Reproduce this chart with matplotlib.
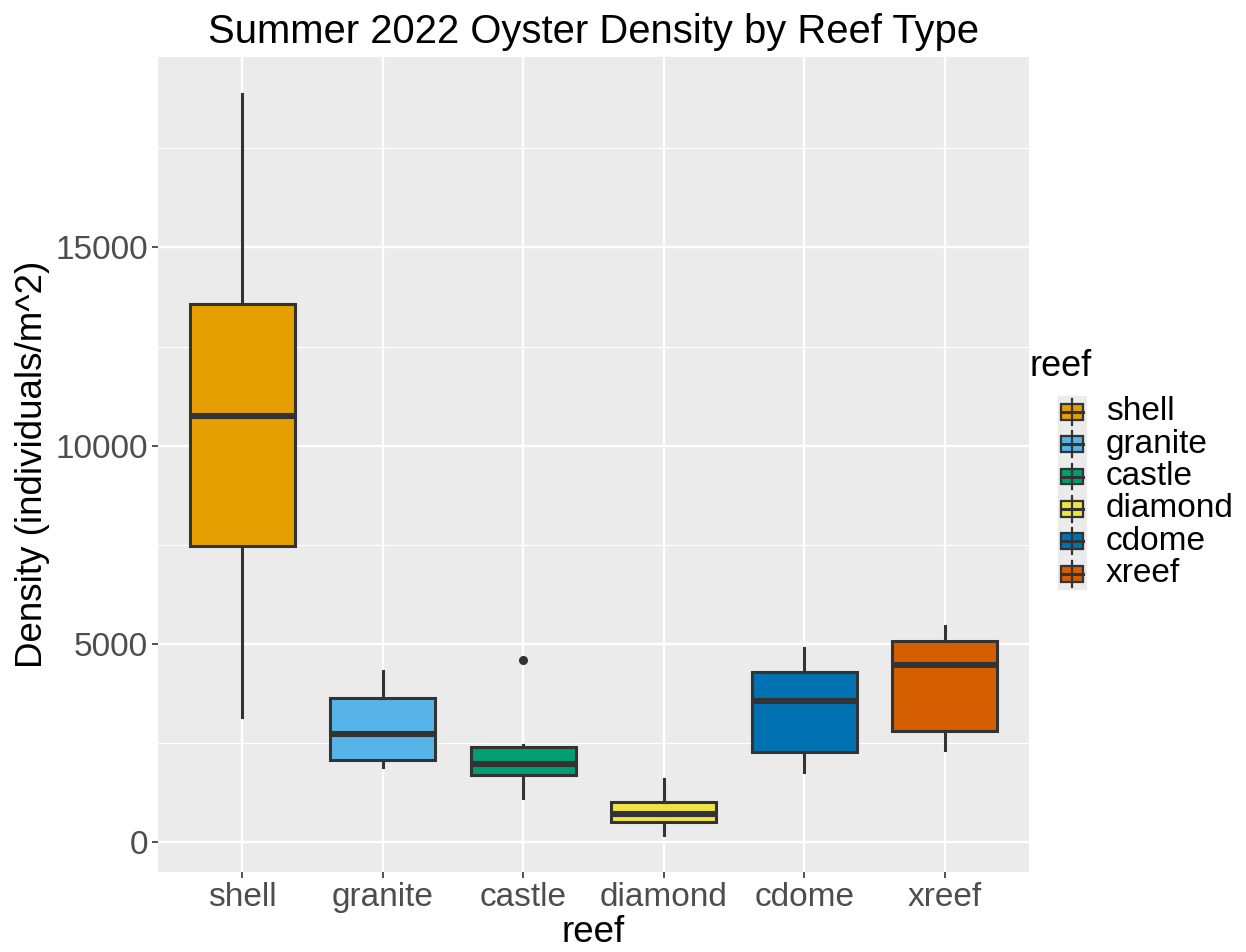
import matplotlib
matplotlib.use("Agg")
import matplotlib.pyplot as plt
from matplotlib.patches import Rectangle
from matplotlib.lines import Line2D

plt.rcParams['font.family'] = ['Liberation Sans', 'DejaVu Sans']

# values (individuals/m^2)
reefs = ["shell", "granite", "castle", "diamond", "cdome", "xreef"]
colors = ["#E69F00", "#56B4E9", "#009E73", "#F0E442", "#0072B2", "#D55E00"]
whislo = [3150, 1905, 1105, 180, 1770, 2330]
q1 = [7480, 2060, 1680, 500, 2285, 2800]
med = [10750, 2715, 1960, 700, 3550, 4475]
q3 = [13570, 3625, 2405, 1005, 4300, 5065]
whishi = [18870, 4325, 2455, 1600, 4895, 5440]
outliers = [[], [], [4600], [], [], []]

W, H = 1246, 952
fig = plt.figure(figsize=(W / 100, H / 100), dpi=100)

def fx(px):
    return px / W

def fy(py):
    return 1 - py / H

ax = fig.add_axes([fx(158), fy(872), fx(1029) - fx(158), fy(57) - fy(872)])
ax.set_facecolor("#EBEBEB")
for s in ax.spines.values():
    s.set_visible(False)

edge = "#333333"
stats = []
for i, r in enumerate(reefs):
    stats.append(dict(label=r, whislo=whislo[i], q1=q1[i], med=med[i],
                      q3=q3[i], whishi=whishi[i], fliers=outliers[i]))

pos = list(range(1, len(reefs) + 1))
bp = ax.bxp(stats, positions=pos, widths=0.75, patch_artist=True, showcaps=False,
            boxprops=dict(edgecolor=edge, linewidth=2.2),
            whiskerprops=dict(color=edge, linewidth=2.2),
            medianprops=dict(color=edge, linewidth=4.4, solid_capstyle="butt"),
            flierprops=dict(marker="o", markerfacecolor=edge, markeredgecolor=edge,
                            markersize=5.5),
            zorder=3)
for patch, c in zip(bp["boxes"], colors):
    patch.set_facecolor(c)

lo = min(whislo)
hi = max(whishi)
pad = 0.05 * (hi - lo)
ax.set_ylim(lo - pad, hi + pad)
ax.set_xlim(0.4, len(reefs) + 0.6)

ax.set_yticks([0, 5000, 10000, 15000])
ax.set_yticks([2500, 7500, 12500, 17500], minor=True)
ax.set_xticks(pos)
ax.set_xticklabels(reefs)
ax.grid(which="major", color="white", linewidth=1.7, zorder=0)
ax.grid(which="minor", axis="y", color="white", linewidth=0.85, zorder=0)
ax.set_axisbelow(True)
ax.tick_params(which="major", length=4, width=1.2, color=edge, labelsize=24,
               labelcolor="#4D4D4D", pad=3)
ax.tick_params(which="minor", length=0)

ax.set_xlabel("reef", fontsize=26.5, labelpad=2)
ax.set_ylabel("Density (individuals/m^2)", fontsize=26.5, labelpad=4)
ax.set_title("Summer 2022 Oyster Density by Reef Type", fontsize=28.8, pad=10)

# legend drawn as boxplot glyphs, as ggplot does
fig.text(fx(1030), fy(366), "reef", fontsize=26, va="center", ha="left")
row0, step = 411.7, 32.4
fig.patches.append(Rectangle((fx(1058), fy(row0 - 16 + step * len(reefs))),
                             fx(29), fy(row0 - 16) - fy(row0 - 16 + step * len(reefs)),
                             transform=fig.transFigure, facecolor="#EBEBEB",
                             edgecolor="none"))
for i, (r, c) in enumerate(zip(reefs, colors)):
    cy = row0 + i * step
    fig.lines.append(Line2D([fx(1072), fx(1072)], [fy(cy - 13), fy(cy + 13)],
                            transform=fig.transFigure, color=edge, linewidth=1.6))
    fig.patches.append(Rectangle((fx(1061), fy(cy + 8)), fx(22), fy(cy - 8) - fy(cy + 8),
                                 transform=fig.transFigure, facecolor=c,
                                 edgecolor=edge, linewidth=1.6))
    fig.lines.append(Line2D([fx(1061), fx(1083)], [fy(cy), fy(cy)],
                            transform=fig.transFigure, color=edge, linewidth=2.2))
    fig.text(fx(1106), fy(cy), r, fontsize=24, va="center", ha="left")

fig.savefig("out.png", dpi=100)
